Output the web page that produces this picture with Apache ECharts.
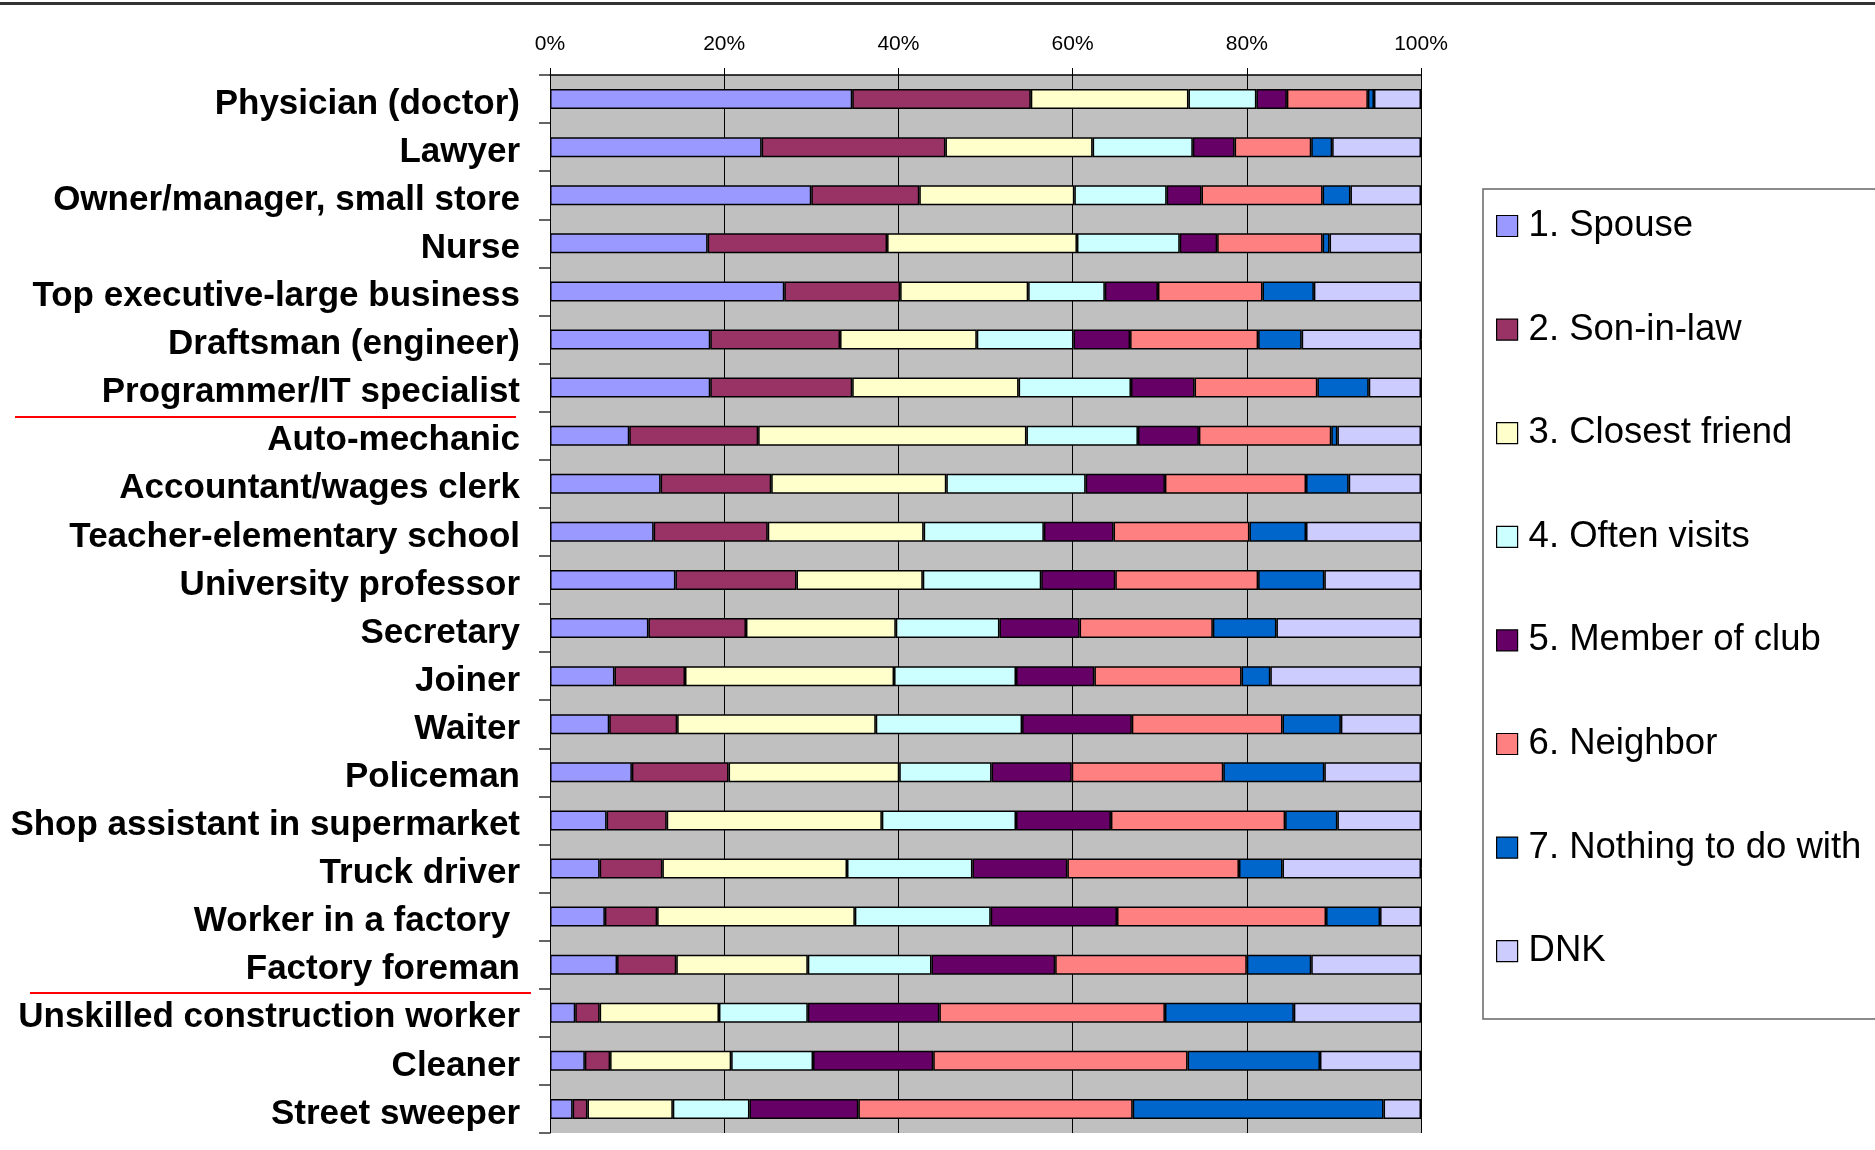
<!DOCTYPE html>
<html>
<head>
<meta charset="utf-8">
<script src="https://cdn.jsdelivr.net/npm/echarts@6/dist/echarts.min.js"></script>
<style>
html,body{margin:0;padding:0;background:#fff;}
#chart{width:1875px;height:1150px;}
</style>
</head>
<body>
<div id="chart"></div>
<script>
const categories = ["Physician (doctor)","Lawyer","Owner/manager, small store","Nurse","Top executive-large business","Draftsman (engineer)","Programmer/IT specialist","Auto-mechanic","Accountant/wages clerk","Teacher-elementary school","University professor","Secretary","Joiner","Waiter","Policeman","Shop assistant in supermarket","Truck driver","Worker in a factory ","Factory foreman","Unskilled construction worker","Cleaner","Street sweeper"];
const seriesNames = ["1. Spouse","2. Son-in-law","3. Closest friend","4. Often visits","5. Member of club","6. Neighbor","7. Nothing to do with","DNK"];
const spouse   = [34.7,24.3,30.0,18.1,26.9,18.4,18.4,9.1,12.7,11.9,14.4,11.3,7.4,6.8,9.4,6.5,5.7,6.3,7.7,2.9,4.0,2.6];
const sonInLaw = [20.5,21.1,12.4,20.6,13.3,14.9,16.3,14.8,12.7,13.1,13.9,11.2,8.1,7.8,11.1,6.9,7.2,6.0,6.8,2.8,2.9,1.7];
const friend   = [18.1,16.9,17.8,21.8,14.7,15.7,19.1,30.8,20.1,17.9,14.5,17.2,24.0,22.8,19.6,24.7,21.2,22.7,15.1,13.7,13.9,9.8];
const visits   = [7.8,11.5,10.6,11.8,8.8,11.1,12.9,12.8,16.0,13.8,13.6,11.9,14.0,16.8,10.6,15.4,14.4,15.6,14.2,10.2,9.4,8.8];
const club     = [3.5,4.8,4.0,4.3,6.1,6.5,7.3,7.0,9.1,8.0,8.5,9.2,9.0,12.6,9.2,10.9,10.9,14.5,14.2,15.1,13.8,12.5];
const neighbor = [9.3,8.8,13.9,12.1,12.0,14.7,14.1,15.2,16.2,15.6,16.4,15.3,16.9,17.3,17.4,20.0,19.7,24.0,22.0,25.9,29.2,31.5];
const nothing  = [0.7,2.4,3.2,0.8,5.9,5.0,5.9,0.7,4.9,6.5,7.6,7.3,3.3,6.7,11.6,6.0,5.0,6.2,7.4,14.8,15.2,28.8];
const dnk      = [5.4,10.2,8.1,10.5,12.3,13.7,6.0,9.6,8.3,13.2,11.1,16.6,17.3,9.2,11.1,9.6,15.9,4.7,12.6,14.6,11.6,4.3];
const xTicks = [0,20,40,60,80,100];

const colors = ["#9999FF","#993366","#FFFFCC","#CCFFFF","#660066","#FF8080","#0066CC","#CCCCFF"];
const allData = [spouse,sonInLaw,friend,visits,club,neighbor,nothing,dnk];
const FONT = "'Liberation Sans', Arial, sans-serif";

const chart = echarts.init(document.getElementById('chart'));
chart.setOption({
  backgroundColor: '#ffffff',
  animation: false,
  color: colors,
  grid: {left: 550, top: 75, width: 871, height: 1058, show: true, backgroundColor: '#C0C0C0', borderWidth: 0},
  xAxis: {
    type: 'value', position: 'top', min: xTicks[0], max: xTicks[xTicks.length-1], interval: 20,
    axisLine: {show: true, lineStyle: {color: '#000', width: 1.5}},
    axisTick: {show: true, length: 7, lineStyle: {color: '#000', width: 1}},
    axisLabel: {formatter: '{value}%', fontSize: 21, color: '#000', fontFamily: FONT, margin: 20},
    splitLine: {show: true, lineStyle: {color: '#000', width: 1}}
  },
  yAxis: {
    type: 'category', data: categories, inverse: true,
    axisLine: {show: true, lineStyle: {color: '#000', width: 1}},
    axisTick: {show: true, length: 11, lineStyle: {color: '#333', width: 1.5}},
    axisLabel: {fontSize: 35, fontWeight: 'bold', color: '#000', fontFamily: FONT, margin: 30, verticalAlign: 'top', lineHeight: 10}
  },
  legend: {
    orient: 'vertical', left: 1496, top: 206, padding: 0,
    itemWidth: 21, itemHeight: 21, itemGap: 63.6,
    icon: 'rect',
    itemStyle: {borderColor: '#000', borderWidth: 1.2},
    textStyle: {fontSize: 36.5, color: '#000', fontFamily: FONT, lineHeight: 40, padding: [0,0,0,6]},
    data: seriesNames
  },
  series: seriesNames.map((n, i) => ({
    name: n, type: 'bar', stack: 'total', barWidth: 20,
    data: allData[i],
    itemStyle: {color: colors[i], borderColor: '#000', borderWidth: 1.5}
  })),
  graphic: [
    {type: 'rect', shape: {x: 0, y: 2, width: 1875, height: 3}, style: {fill: '#333'}},
    {type: 'line', shape: {x1: 15, y1: 417, x2: 516, y2: 417}, style: {stroke: '#FF0000', lineWidth: 2}},
    {type: 'line', shape: {x1: 30, y1: 993, x2: 531, y2: 993}, style: {stroke: '#FF0000', lineWidth: 2}},
    {type: 'rect', shape: {x: 1483, y: 189, width: 500, height: 830}, style: {fill: 'none', stroke: '#666', lineWidth: 1.5}}
  ]
});
</script>
</body>
</html>
